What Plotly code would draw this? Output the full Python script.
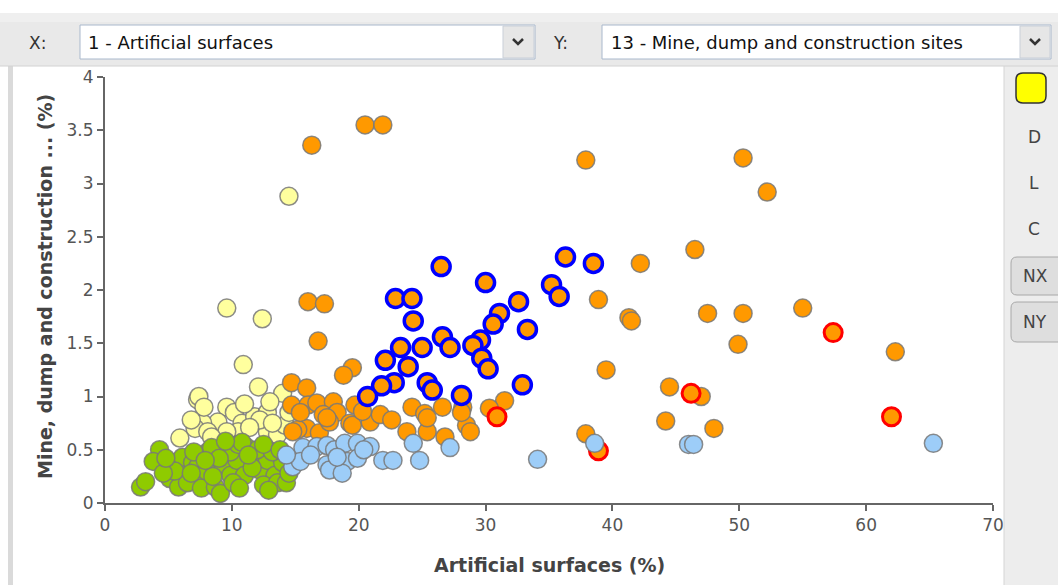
import plotly.graph_objects as go

# ---------------- data ----------------
green_x = [4.3, 3.8, 2.8, 3.2, 5.8, 6.1, 5.1, 5.8, 6.9, 7.3, 8.1, 8.4, 7.3, 6.5, 7.6, 9.3, 9.9, 8.7, 9.1,
           11.2, 10.4, 11.7, 11.0, 10.1, 10.6, 12.2, 12.8, 13.4, 14.0, 12.5, 13.6, 14.3, 9.9, 5.5, 8.0,
           10.5, 12.0, 13.2, 9.0, 6.8, 4.6, 11.6, 8.5, 14.5, 7.0, 12.9, 10.8, 12.5, 9.5, 13.8, 7.9, 11.3,
           4.8]
green_y = [0.50, 0.39, 0.15, 0.20, 0.39, 0.43, 0.23, 0.15, 0.38, 0.34, 0.48, 0.52, 0.22, 0.19, 0.14, 0.34,
           0.26, 0.15, 0.09, 0.52, 0.40, 0.43, 0.26, 0.19, 0.14, 0.31, 0.40, 0.26, 0.38, 0.17, 0.19, 0.19,
           0.48, 0.30, 0.30, 0.55, 0.50, 0.48, 0.42, 0.28, 0.28, 0.33, 0.25, 0.28, 0.48, 0.12, 0.57, 0.55,
           0.58, 0.50, 0.40, 0.45, 0.42]

yellow_x = [14.5, 9.6, 12.4, 10.9, 12.1, 14.0, 7.3, 7.4, 9.6, 8.9, 7.7, 7.1, 8.1, 5.9, 10.2, 10.8, 10.5,
            11.8, 12.8, 12.8, 13.6, 14.2, 12.2, 13.2, 9.6, 11.4, 8.4, 14.5, 7.8, 6.8, 11.0, 13.0]
yellow_y = [2.88, 1.83, 1.73, 1.30, 1.09, 1.03, 0.97, 1.00, 0.90, 0.76, 0.75, 0.70, 0.67, 0.61, 0.85, 0.75,
            0.67, 0.81, 0.85, 0.67, 0.64, 0.73, 0.78, 0.75, 0.67, 0.71, 0.62, 0.85, 0.90, 0.78, 0.93, 0.95]

orange_x = [16.3, 20.5, 21.9, 37.9, 50.3, 52.2, 46.5, 42.2, 16.0, 17.3, 38.9, 41.3, 41.5, 16.8, 19.5, 18.8,
            39.5, 47.5, 50.3, 55.0, 49.9, 62.3, 44.5, 47.0, 44.2, 48.0, 37.9, 31.5, 30.3,
            14.7, 15.9, 14.7, 16.0, 16.7, 18.0, 19.7, 17.2, 18.3, 19.3, 15.9, 16.9, 15.2, 20.9, 21.7, 22.6,
            24.2, 23.8, 25.2, 25.4, 26.6, 26.8, 28.2, 28.5, 28.8, 17.7, 15.4, 17.5, 14.8, 19.5, 25.4, 28.1,
            20.3]
orange_y = [3.36, 3.55, 3.55, 3.22, 3.24, 2.92, 2.38, 2.25, 1.89, 1.87, 1.91, 1.74, 1.71, 1.52, 1.27, 1.20,
            1.25, 1.78, 1.78, 1.83, 1.49, 1.42, 1.09, 1.00, 0.77, 0.70, 0.65, 0.96, 0.89,
            1.13, 1.08, 0.92, 0.92, 0.94, 0.95, 0.92, 0.83, 0.85, 0.75, 0.70, 0.66, 0.69, 0.76, 0.83, 0.78,
            0.90, 0.67, 0.84, 0.67, 0.90, 0.62, 0.90, 0.73, 0.67, 0.76, 0.85, 0.80, 0.67, 0.73, 0.80, 0.85,
            0.86]

red_x = [30.9, 38.9, 57.4, 62.0, 46.2]
red_y = [0.81, 0.49, 1.60, 0.81, 1.03]

lightblue_x = [65.3, 46.0, 46.4, 38.6, 34.1, 15.6, 14.8, 15.4, 16.7, 17.5, 18.1, 18.9, 19.9, 20.9, 17.5,
               19.1, 17.7, 19.9, 18.7, 21.9, 22.7, 24.3, 24.8, 27.2, 20.4, 16.2, 14.3, 18.3]
lightblue_y = [0.56, 0.55, 0.55, 0.56, 0.41, 0.52, 0.34, 0.39, 0.53, 0.54, 0.50, 0.56, 0.56, 0.53, 0.36,
               0.39, 0.31, 0.42, 0.28, 0.40, 0.40, 0.56, 0.40, 0.52, 0.50, 0.45, 0.45, 0.43]

blue_x = [26.5, 30.0, 36.3, 38.5, 35.2, 35.8, 22.9, 24.2, 24.3, 32.6, 31.1, 30.6, 33.3, 26.6, 27.2, 29.6,
          29.0, 29.7, 30.2, 23.3, 25.0, 22.1, 23.9, 22.8, 21.8, 25.4, 25.8, 28.1, 32.9, 20.7]
blue_y = [2.22, 2.07, 2.31, 2.25, 2.05, 1.94, 1.92, 1.92, 1.71, 1.89, 1.78, 1.68, 1.63, 1.56, 1.46, 1.53,
          1.48, 1.36, 1.26, 1.46, 1.46, 1.34, 1.28, 1.13, 1.10, 1.13, 1.06, 1.01, 1.11, 1.00]

x_title = "Artificial surfaces (%)"
y_title = "Mine, dump and construction ... (%)"
x_combo = "1 - Artificial surfaces"
y_combo = "13 - Mine, dump and construction sites"
side_labels = ["D", "L", "C"]

# ---------------- layout geometry (pixels) ----------------
W_PX, H_PX = 1058, 585
L, R, T, B = 105, 993, 77, 503
PW, PH = R - L, B - T


def px(x):
    return (x - L) / PW


def py(y):
    return (B - y) / PH


GRAY_LINE = "rgba(120,120,120,0.85)"

fig = go.Figure()


def add_group(xs, ys, fill, line_color, line_width, size):
    fig.add_trace(go.Scatter(
        x=xs, y=ys, mode="markers",
        marker=dict(size=size, color=fill, line=dict(color=line_color, width=line_width)),
        showlegend=False, hoverinfo="x+y"))


add_group(yellow_x, yellow_y, "#FFFF9E", GRAY_LINE, 1.5, 18)
add_group(orange_x, orange_y, "#FF9900", GRAY_LINE, 1.5, 18)
add_group(red_x, red_y, "#FF9900", "#FF0000", 3, 18)
add_group(green_x, green_y, "#8FCB00", GRAY_LINE, 1.5, 18)
add_group(lightblue_x, lightblue_y, "#9DCDF8", GRAY_LINE, 1.5, 18)
add_group(blue_x, blue_y, "#FF9900", "#0000FF", 3.5, 18)

shapes = []
annotations = []


def rect(x0, y0, x1, y1, fill, line=None, lw=1):
    shapes.append(dict(type="rect", xref="paper", yref="paper",
                       x0=px(x0), x1=px(x1), y0=py(y1), y1=py(y0),
                       fillcolor=fill, line=dict(color=line or fill, width=lw if line else 0),
                       layer="below"))


def rrect(x0, y0, x1, y1, r, fill, line, lw=1):
    pts = (f"M {px(x0 + r)},{py(y0)} L {px(x1 - r)},{py(y0)} Q {px(x1)},{py(y0)} {px(x1)},{py(y0 + r)} "
           f"L {px(x1)},{py(y1 - r)} Q {px(x1)},{py(y1)} {px(x1 - r)},{py(y1)} "
           f"L {px(x0 + r)},{py(y1)} Q {px(x0)},{py(y1)} {px(x0)},{py(y1 - r)} "
           f"L {px(x0)},{py(y0 + r)} Q {px(x0)},{py(y0)} {px(x0 + r)},{py(y0)} Z")
    shapes.append(dict(type="path", xref="paper", yref="paper", path=pts,
                       fillcolor=fill, line=dict(color=line, width=lw), layer="below"))


def hline(x0, x1, y, color, w=1):
    shapes.append(dict(type="line", xref="paper", yref="paper", x0=px(x0), x1=px(x1), y0=py(y), y1=py(y),
                       line=dict(color=color, width=w)))


def vline(x, y0, y1, color, w=1):
    shapes.append(dict(type="line", xref="paper", yref="paper", x0=px(x), x1=px(x), y0=py(y0), y1=py(y1),
                       line=dict(color=color, width=w)))


def chevron(cx, cy):
    path = f"M {px(cx - 5)},{py(cy - 3)} L {px(cx)},{py(cy + 2)} L {px(cx + 5)},{py(cy - 3)}"
    shapes.append(dict(type="path", xref="paper", yref="paper", path=path,
                       line=dict(color="#333333", width=2.5)))


def text(x, y, s, size=15, color="#222222", xanchor="center", bold=False, family="DejaVu Sans", angle=0):
    annotations.append(dict(x=px(x), y=py(y), xref="paper", yref="paper", text=(f"<b>{s}</b>" if bold else s),
                            showarrow=False, xanchor=xanchor, yanchor="middle", textangle=angle,
                            font=dict(size=size, color=color, family=family)))


# toolbar
rect(0, 13, W_PX, 66, "#E9E9E9")
rect(0, 13, W_PX, 22, "#EFEFEF")
hline(0, W_PX, 66, "#D2D2D2", 1)
# X combo
rect(80, 25, 535, 59, "#FFFFFF", "#A9B8CC", 1)
rect(503, 26, 534, 58, "#E6E6E6", "#C9CFD8", 1)
chevron(518, 42)
text(27, 43, "X:", 17, "#333333", "left")
text(86, 42, x_combo, 18, "#111111", "left")
# Y combo
rect(602, 25, 1051, 59, "#FFFFFF", "#A9B8CC", 1)
rect(1020, 26, 1050, 58, "#E6E6E6", "#C9CFD8", 1)
chevron(1035, 42)
text(551, 43, "Y:", 17, "#333333", "left")
text(609, 42, y_combo, 18, "#111111", "left")

# left strip
rect(8, 66, 13, H_PX, "#DADADA")

# right panel
rect(1004, 66, W_PX, H_PX, "#EDEDED")
vline(1004, 66, H_PX, "#D5D5D5", 1)
rrect(1016, 73, 1046, 103, 7, "#FFFF00", "#333333", 1.5)
for lab, yy in zip(side_labels, [137, 183, 229]):
    text(1034, yy, lab, 17, "#444444")
rrect(1011, 257, 1064, 295, 6, "#DEDEDE", "#A8A8A8", 1)
rrect(1011, 302, 1064, 342, 6, "#DEDEDE", "#A8A8A8", 1)
text(1035, 276, "NX", 17, "#444444")
text(1035, 322, "NY", 17, "#444444")

# axis titles
text(549, 565, x_title, 19, "#444444", bold=True)
text(45, 287, y_title, 19, "#444444", bold=True, angle=-90)

# small y-axis extension below zero
vline(L, B, B + 6, "#666666", 2)

fig.update_layout(
    width=W_PX, height=H_PX,
    margin=dict(l=L, r=W_PX - R, t=T, b=H_PX - B, pad=0),
    paper_bgcolor="#FFFFFF", plot_bgcolor="#FFFFFF",
    shapes=shapes, annotations=annotations,
    xaxis=dict(range=[0, 70], dtick=10, tick0=0, showgrid=False, zeroline=False, showline=True,
               linecolor="#666666", linewidth=2, ticks="outside", ticklen=6, tickcolor="#666666",
               tickwidth=1.5, tickfont=dict(size=17, color="#555555", family="DejaVu Sans")),
    yaxis=dict(range=[0, 4], dtick=0.5, tick0=0, showgrid=False, zeroline=False, showline=True,
               linecolor="#666666", linewidth=2, ticks="outside", ticklen=6, tickcolor="#666666",
               tickwidth=1.5, tickfont=dict(size=17, color="#555555", family="DejaVu Sans")),
    font=dict(family="DejaVu Sans"),
)

fig.write_html("out.html", config={"displayModeBar": False},
               post_script="document.body.style.margin='0px';document.body.style.padding='0px';")
